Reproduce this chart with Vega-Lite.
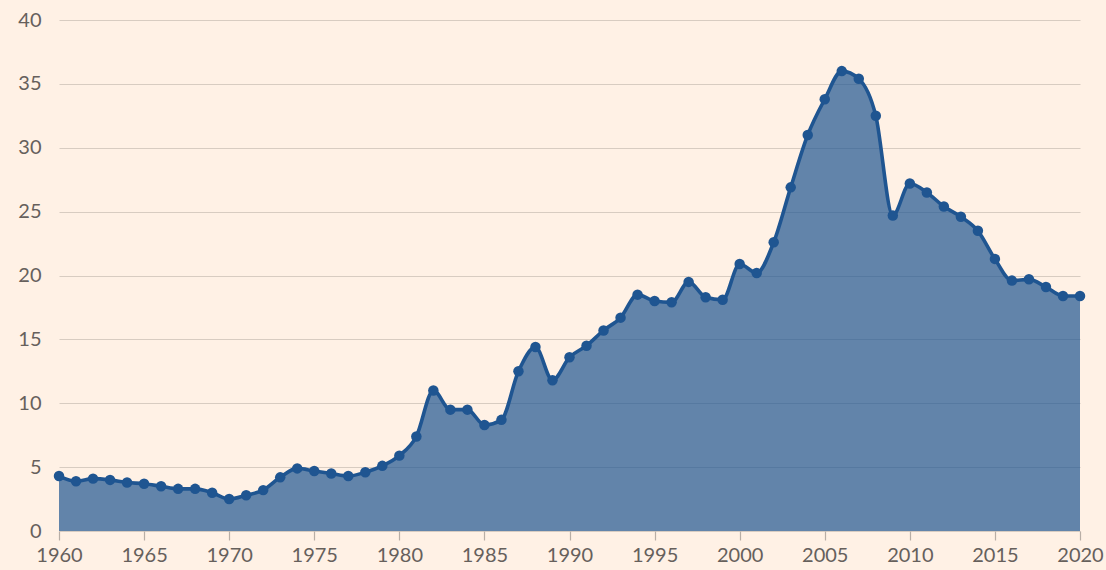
{
  "$schema": "https://vega.github.io/schema/vega-lite/v6.json",
  "width": 1021,
  "height": 511,
  "autosize": {"type": "none"},
  "padding": {"left": 59, "top": 20, "right": 26, "bottom": 39},
  "background": "#fff1e5",
  "config": {
    "view": {"stroke": null},
    "font": "Lato",
    "axis": {"labelFont": "Lato", "labelColor": "#66605c", "labelFontSize": 20, "gridColor": "#d8ccc1", "gridWidth": 1.2}
  },
  "data": {
    "values": [
      {"year": 1960, "value": 4.3}, {"year": 1961, "value": 3.9}, {"year": 1962, "value": 4.1},
      {"year": 1963, "value": 4.0}, {"year": 1964, "value": 3.8}, {"year": 1965, "value": 3.7},
      {"year": 1966, "value": 3.5}, {"year": 1967, "value": 3.3}, {"year": 1968, "value": 3.3},
      {"year": 1969, "value": 3.0}, {"year": 1970, "value": 2.5}, {"year": 1971, "value": 2.8},
      {"year": 1972, "value": 3.2}, {"year": 1973, "value": 4.2}, {"year": 1974, "value": 4.9},
      {"year": 1975, "value": 4.7}, {"year": 1976, "value": 4.5}, {"year": 1977, "value": 4.3},
      {"year": 1978, "value": 4.6}, {"year": 1979, "value": 5.1}, {"year": 1980, "value": 5.9},
      {"year": 1981, "value": 7.4}, {"year": 1982, "value": 11.0}, {"year": 1983, "value": 9.5},
      {"year": 1984, "value": 9.5}, {"year": 1985, "value": 8.3}, {"year": 1986, "value": 8.7},
      {"year": 1987, "value": 12.5}, {"year": 1988, "value": 14.4}, {"year": 1989, "value": 11.8},
      {"year": 1990, "value": 13.6}, {"year": 1991, "value": 14.5}, {"year": 1992, "value": 15.7},
      {"year": 1993, "value": 16.7}, {"year": 1994, "value": 18.5}, {"year": 1995, "value": 18.0},
      {"year": 1996, "value": 17.9}, {"year": 1997, "value": 19.5}, {"year": 1998, "value": 18.3},
      {"year": 1999, "value": 18.1}, {"year": 2000, "value": 20.9}, {"year": 2001, "value": 20.2},
      {"year": 2002, "value": 22.6}, {"year": 2003, "value": 26.9}, {"year": 2004, "value": 31.0},
      {"year": 2005, "value": 33.8}, {"year": 2006, "value": 36.0}, {"year": 2007, "value": 35.4},
      {"year": 2008, "value": 32.5}, {"year": 2009, "value": 24.7}, {"year": 2010, "value": 27.2},
      {"year": 2011, "value": 26.5}, {"year": 2012, "value": 25.4}, {"year": 2013, "value": 24.6},
      {"year": 2014, "value": 23.5}, {"year": 2015, "value": 21.3}, {"year": 2016, "value": 19.6},
      {"year": 2017, "value": 19.7}, {"year": 2018, "value": 19.1}, {"year": 2019, "value": 18.4},
      {"year": 2020, "value": 18.4}
    ]
  },
  "encoding": {
    "x": {
      "field": "year", "type": "quantitative",
      "scale": {"domain": [1960, 2020], "nice": false, "zero": false},
      "axis": {"title": null, "values": [1960, 1965, 1970, 1975, 1980, 1985, 1990, 1995, 2000, 2005, 2010, 2015, 2020], "format": "d", "grid": false, "domain": false, "ticks": true, "tickSize": 9, "tickColor": "#b8aea6", "tickWidth": 1.2, "labelPadding": 5, "labelFlush": false, "labelBound": false, "labelOverlap": false, "labelFontSize": 20}
    },
    "y": {
      "field": "value", "type": "quantitative",
      "scale": {"domain": [0, 40], "nice": false},
      "axis": {"title": null, "values": [0, 5, 10, 15, 20, 25, 30, 35, 40], "domain": false, "ticks": false, "labelPadding": 18, "grid": true, "labelFontSize": 20}
    }
  },
  "layer": [
    {"mark": {"type": "area", "interpolate": "monotone", "color": "#1f5591", "opacity": 0.7}},
    {"mark": {"type": "line", "interpolate": "monotone", "color": "#1f5591", "strokeWidth": 3.6}},
    {"mark": {"type": "point", "filled": true, "color": "#1f5591", "opacity": 1, "size": 110}}
  ]
}
